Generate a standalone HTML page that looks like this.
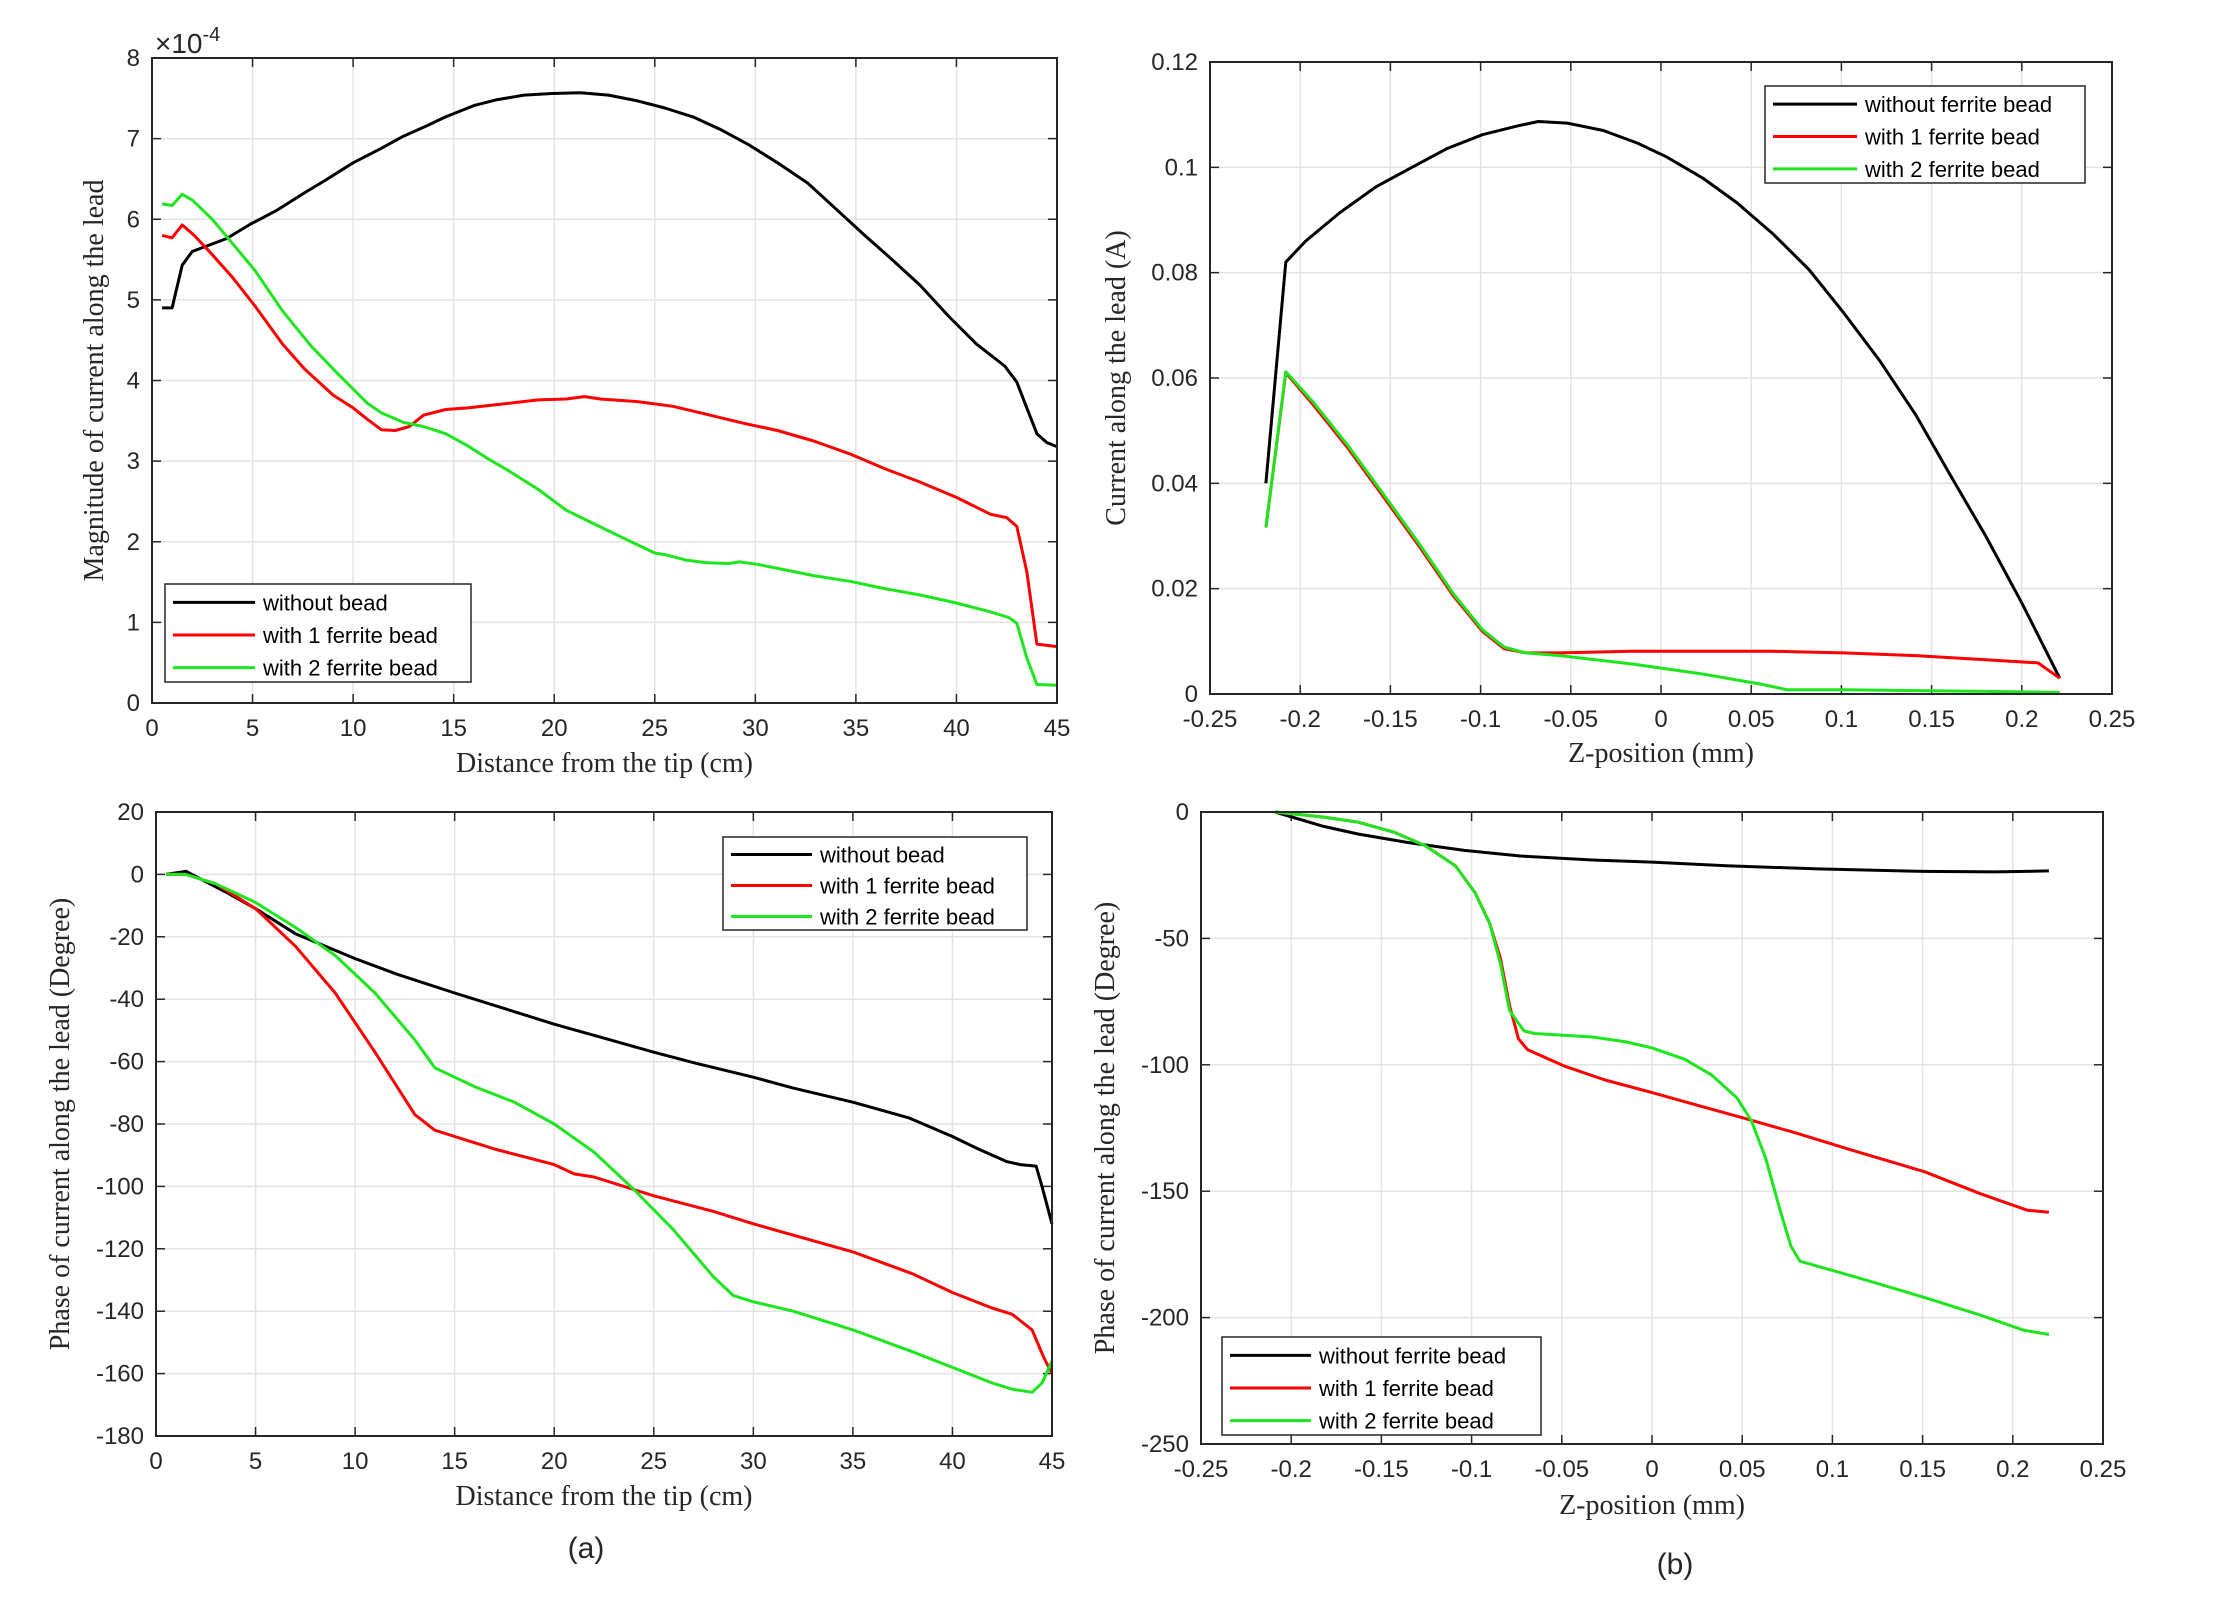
<!DOCTYPE html>
<html><head><meta charset="utf-8">
<style>
html,body{margin:0;padding:0;background:#fff;}
svg{display:block;}
.tk{font-family:"Liberation Sans",Arial,sans-serif;font-size:24px;fill:#262626;}
.ttl{font-family:"Liberation Serif","DejaVu Serif",serif;font-size:28px;fill:#262626;}
.lg{font-family:"Liberation Sans",Arial,sans-serif;font-size:22px;fill:#000;}
</style></head>
<body>
<svg id="fig" width="2221" height="1603" viewBox="0 0 2221 1603" xmlns="http://www.w3.org/2000/svg"></svg>
<script>
// ---------- Panel A1: magnitude vs distance ----------
const a1Ticks = [0,5,10,15,20,25,30,35,40,45];
const a1YTicks = [0,1,2,3,4,5,6,7,8];
const a1BlackX = [0.5,1.0,1.5,2.0,3.7,4.9,6.2,7.6,8.6,10,11.4,12.5,13.5,14.6,16,17.1,18.5,19.9,21.3,22.7,24.1,25.5,26.9,28.3,29.7,31.1,32.6,34,35.4,36.8,38.2,39.6,41,42.4,43.0,43.5,44,44.5,45];
const a1BlackY = [4.9,4.9,5.43,5.6,5.76,5.94,6.11,6.33,6.48,6.7,6.88,7.03,7.14,7.27,7.41,7.48,7.54,7.56,7.57,7.54,7.47,7.38,7.27,7.11,6.92,6.7,6.45,6.13,5.81,5.5,5.18,4.8,4.45,4.18,3.98,3.66,3.34,3.23,3.18];
const a1RedX = [0.5,1,1.5,2.1,3,4,5.1,6.5,7.6,9,10,10.7,11.4,12.1,12.8,13.5,14.6,15.7,17.1,19.2,20.6,21.5,22.3,24.1,25.9,27.6,29.4,31.1,32.9,34.7,36.4,38.2,40,41.7,42.5,43,43.5,44,45];
const a1RedY = [5.8,5.77,5.93,5.8,5.56,5.28,4.93,4.45,4.14,3.82,3.66,3.52,3.39,3.38,3.43,3.57,3.64,3.66,3.7,3.76,3.77,3.8,3.77,3.74,3.68,3.58,3.47,3.38,3.25,3.09,2.91,2.74,2.55,2.34,2.3,2.19,1.63,0.73,0.7];
const a1GreenX = [0.5,1,1.5,2,3,4,5.1,6.5,7.9,9.3,10.7,11.4,12.5,13.5,14.6,15.7,16.7,17.8,19.2,20.6,22,23.4,25,25.5,26.6,27.6,28.7,29.2,30.1,31.1,32.9,34.7,36.4,38.2,40,41.7,42.6,43,43.5,44,45];
const a1GreenY = [6.19,6.17,6.31,6.24,6.0,5.7,5.37,4.86,4.43,4.07,3.72,3.6,3.48,3.43,3.34,3.19,3.03,2.87,2.65,2.39,2.22,2.05,1.86,1.84,1.77,1.74,1.73,1.75,1.72,1.67,1.58,1.51,1.42,1.34,1.24,1.13,1.06,0.99,0.56,0.23,0.22];

// ---------- Panel B1: current vs z ----------
const b1XTicks = [-0.25,-0.2,-0.15,-0.1,-0.05,0,0.05,0.1,0.15,0.2,0.25];
const b1XLabels = ["-0.25","-0.2","-0.15","-0.1","-0.05","0","0.05","0.1","0.15","0.2","0.25"];
const b1YTicks = [0,0.02,0.04,0.06,0.08,0.1,0.12];
const b1YLabels = ["0","0.02","0.04","0.06","0.08","0.1","0.12"];
const b1BlackX = [-0.219,-0.208,-0.197,-0.178,-0.158,-0.138,-0.119,-0.099,-0.079,-0.068,-0.052,-0.032,-0.013,0.003,0.023,0.042,0.062,0.082,0.101,0.121,0.141,0.160,0.18,0.2,0.221];
const b1BlackY = [0.040,0.082,0.086,0.0914,0.0963,0.100,0.1035,0.1062,0.1079,0.1087,0.1084,0.107,0.1046,0.102,0.098,0.0933,0.0874,0.0806,0.0725,0.0634,0.0531,0.0418,0.030,0.0173,0.003];
const b1RedX = [-0.219,-0.208,-0.193,-0.174,-0.154,-0.134,-0.115,-0.099,-0.087,-0.075,-0.056,-0.016,0.023,0.062,0.101,0.141,0.18,0.209,0.221];
const b1RedY = [0.0316,0.061,0.055,0.0469,0.0375,0.028,0.0186,0.0119,0.0086,0.0078,0.0078,0.0081,0.0081,0.0081,0.0078,0.0073,0.0065,0.0059,0.003];
const b1GreenX = [-0.219,-0.208,-0.193,-0.174,-0.154,-0.134,-0.115,-0.099,-0.087,-0.075,-0.056,-0.016,0.023,0.055,0.07,0.101,0.18,0.221];
const b1GreenY = [0.0316,0.0612,0.0555,0.0474,0.038,0.0285,0.019,0.0122,0.0089,0.0078,0.0073,0.0057,0.0038,0.0019,0.0008,0.0008,0.0005,0.0003];

// ---------- Panel A2: phase vs distance ----------
const a2XTicks = [0,5,10,15,20,25,30,35,40,45];
const a2YTicks = [20,0,-20,-40,-60,-80,-100,-120,-140,-160,-180];
const a2BlackX = [0.5,1.5,2.1,3.6,5,7,10,12.1,15,17,20,22.8,25,27.1,30,32,35,37.8,40,41.3,42.7,43.4,44.2,44.5,45];
const a2BlackY = [0,1,-1,-6,-11,-19,-27,-32,-38,-42,-48,-53,-57,-60.5,-65,-68.5,-73,-78,-84,-88,-92,-93,-93.5,-100,-112];
const a2RedX = [0.5,1.5,3,5,7,9,11,13,14,15,17,20,21,22,25,28,30,35,38,40,42,43,44,44.6,45];
const a2RedY = [0,0,-3,-11,-23,-38,-57,-77,-82,-84,-88,-93,-96,-97,-103,-108,-112,-121,-128,-134,-139,-141,-146,-155,-160];
const a2GreenX = [0.5,1.5,3,5,7,9,11,13,14,15,16,18,20,22,24,26,28,29,30,32,35,38,40,42,43,44,44.5,45];
const a2GreenY = [0,0,-3,-9,-17,-26,-38,-53,-62,-65,-68,-73,-80,-89,-101,-114,-129,-135,-137,-140,-146,-153,-158,-163,-165,-166,-163,-156];

// ---------- Panel B2: phase vs z ----------
const b2XTicks = [-0.25,-0.2,-0.15,-0.1,-0.05,0,0.05,0.1,0.15,0.2,0.25];
const b2XLabels = ["-0.25","-0.2","-0.15","-0.1","-0.05","0","0.05","0.1","0.15","0.2","0.25"];
const b2YTicks = [0,-50,-100,-150,-200,-250];
const b2BlackX = [-0.209,-0.182,-0.163,-0.135,-0.104,-0.073,-0.033,0,0.041,0.092,0.151,0.19,0.22];
const b2BlackY = [0,-5.7,-8.7,-12.1,-15.2,-17.4,-19,-19.8,-21.3,-22.5,-23.5,-23.7,-23.3];
const b2RedX = [-0.209,-0.182,-0.163,-0.143,-0.126,-0.109,-0.098,-0.09,-0.084,-0.079,-0.074,-0.069,-0.049,-0.026,0,0.025,0.053,0.08,0.112,0.151,0.182,0.208,0.22];
const b2RedY = [0,-2,-4,-8,-13.2,-21.3,-32,-44,-58,-76.5,-89.7,-94,-100.4,-106,-111,-116,-121.5,-127,-134,-142.3,-151,-157.5,-158.3];
const b2GreenX = [-0.209,-0.182,-0.163,-0.143,-0.126,-0.109,-0.098,-0.09,-0.084,-0.079,-0.071,-0.065,-0.033,-0.014,0,0.018,0.033,0.047,0.055,0.063,0.071,0.077,0.082,0.112,0.151,0.182,0.206,0.22];
const b2GreenY = [0,-2,-4,-8,-13.2,-21.3,-32,-44,-60,-78.5,-86.6,-87.6,-89,-91,-93.3,-97.8,-104,-113,-122,-137,-157.5,-171.7,-177.7,-183.8,-192,-199,-205,-206.7];

const NS = "http://www.w3.org/2000/svg";
const fig = document.getElementById('fig');
function mk(tag, attrs, parent){
  const e = document.createElementNS(NS, tag);
  for (const k in attrs) e.setAttribute(k, attrs[k]);
  (parent||fig).appendChild(e);
  return e;
}
const BLACK = "#000000", RED = "#ff0000", GREEN = "#1ee61e";

function panel(p){
  const g = mk('g', {});
  
  
  const sx = v => p.L + (v - p.xmin) / (p.xmax - p.xmin) * (p.R - p.L);
  const sy = v => p.B - (v - p.ymin) / (p.ymax - p.ymin) * (p.B - p.T);
  p.xt.forEach((v,i) => {
    const x = sx(v);
    const gl = mk('line', {x1:x, x2:x, y1:p.T, y2:p.B, stroke:'#e3e3e3', 'stroke-width':1.5}, g);
    
    
    mk('line', {x1:x, x2:x, y1:p.B, y2:p.B-9, stroke:'#262626', 'stroke-width':1.5}, g);
    mk('line', {x1:x, x2:x, y1:p.T, y2:p.T+9, stroke:'#262626', 'stroke-width':1.5}, g);
    const t = mk('text', {x:x, y:p.B+33, 'text-anchor':'middle', class:'tk'}, g);
    t.textContent = p.xl ? p.xl[i] : String(v);
    
    
  });
  p.yt.forEach((v,i) => {
    const y = sy(v);
    const gl = mk('line', {x1:p.L, x2:p.R, y1:y, y2:y, stroke:'#e3e3e3', 'stroke-width':1.5}, g);
    
    
    mk('line', {x1:p.L, x2:p.L+9, y1:y, y2:y, stroke:'#262626', 'stroke-width':1.5}, g);
    mk('line', {x1:p.R, x2:p.R-9, y1:y, y2:y, stroke:'#262626', 'stroke-width':1.5}, g);
    const t = mk('text', {x:p.L-12, y:y+8, 'text-anchor':'end', class:'tk'}, g);
    t.textContent = p.yl ? p.yl[i] : String(v);
    
    
  });
  p.series.forEach(s => {
    const d = s.x.map((v,i) => (i?'L':'M') + sx(v).toFixed(1) + ',' + sy(s.y[i]).toFixed(1)).join(' ');
    const path = mk('path', {d:d, fill:'none', stroke:s.c, 'stroke-width':3, 'stroke-linejoin':'round'}, g);
    
    
  });
  const box = mk('rect', {x:p.L, y:p.T, width:p.R-p.L, height:p.B-p.T, fill:'none', stroke:'#262626', 'stroke-width':2}, g);
  
  
  const xt = mk('text', {x:(p.L+p.R)/2, y:p.xty, 'text-anchor':'middle', class:'ttl'}, g);
  xt.textContent = p.xtitle;
  
  
  const yt = mk('text', {x:0, y:0, 'text-anchor':'middle', class:'ttl', transform:`translate(${p.ytx},${(p.T+p.B)/2}) rotate(-90)`}, g);
  yt.textContent = p.ytitle;
  
  
  const lg = p.leg;
  const lgr = mk('g', {}, g);
  
  
  mk('rect', {x:lg.x, y:lg.y, width:lg.w, height:lg.h, fill:'#fff', stroke:'#262626', 'stroke-width':1.5}, lgr);
  p.series.forEach((s,i) => {
    const ry = lg.y + lg.h*(i+0.5)/3 + 2;
    const e = mk('g', {}, lgr);
    
    
    mk('line', {x1:lg.x+8, x2:lg.x+8+lg.ll, y1:ry, y2:ry, stroke:s.c, 'stroke-width':3}, e);
    const t = mk('text', {x:lg.x+lg.ll+16, y:ry+8, class:'lg'}, e);
    t.textContent = s.label;
  });
}

panel({name:'magnitude-chart', L:152, R:1057, T:58, B:703, xmin:0, xmax:45, ymin:0, ymax:8,
  xt:a1Ticks, yt:a1YTicks, xtitle:'Distance from the tip (cm)', ytitle:'Magnitude of current along the lead', xty:772, ytx:103,
  leg:{x:165, y:584, w:306, h:98, ll:82},
  series:[{x:a1BlackX,y:a1BlackY,c:BLACK,n:'line-without-bead',label:'without bead'},
          {x:a1RedX,y:a1RedY,c:RED,n:'line-1-ferrite-bead',label:'with 1 ferrite bead'},
          {x:a1GreenX,y:a1GreenY,c:GREEN,n:'line-2-ferrite-bead',label:'with 2 ferrite bead'}]});
const ex = mk('text', {x:155, y:53, class:'tk'});
ex.innerHTML = '×10<tspan dy="-12" style="font-size:20px">-4</tspan>';
ex.setAttribute('style','font-size:28px');



panel({name:'current-chart', L:1210, R:2112, T:62, B:694, xmin:-0.25, xmax:0.25, ymin:0, ymax:0.12,
  xt:b1XTicks, xl:b1XLabels, yt:b1YTicks, yl:b1YLabels, xtitle:'Z-position (mm)', ytitle:'Current along the lead (A)', xty:762, ytx:1125,
  leg:{x:1765, y:86, w:320, h:97, ll:84},
  series:[{x:b1BlackX,y:b1BlackY,c:BLACK,n:'line-without-ferrite-bead',label:'without ferrite bead'},
          {x:b1RedX,y:b1RedY,c:RED,n:'line-1-ferrite-bead',label:'with 1 ferrite bead'},
          {x:b1GreenX,y:b1GreenY,c:GREEN,n:'line-2-ferrite-bead',label:'with 2 ferrite bead'}]});

panel({name:'phase-distance-chart', L:156, R:1052, T:812, B:1436, xmin:0, xmax:45, ymin:-180, ymax:20,
  xt:a2XTicks, yt:a2YTicks, xtitle:'Distance from the tip (cm)', ytitle:'Phase of current along the lead (Degree)', xty:1505, ytx:69,
  leg:{x:723, y:837, w:304, h:93, ll:81},
  series:[{x:a2BlackX,y:a2BlackY,c:BLACK,n:'line-without-bead',label:'without bead'},
          {x:a2RedX,y:a2RedY,c:RED,n:'line-1-ferrite-bead',label:'with 1 ferrite bead'},
          {x:a2GreenX,y:a2GreenY,c:GREEN,n:'line-2-ferrite-bead',label:'with 2 ferrite bead'}]});

panel({name:'phase-z-chart', L:1201, R:2103, T:812, B:1444, xmin:-0.25, xmax:0.25, ymin:-250, ymax:0,
  xt:b2XTicks, xl:b2XLabels, yt:b2YTicks, xtitle:'Z-position (mm)', ytitle:'Phase of current along the lead (Degree)', xty:1514, ytx:1114,
  leg:{x:1222, y:1337, w:319, h:98, ll:81},
  series:[{x:b2BlackX,y:b2BlackY,c:BLACK,n:'line-without-ferrite-bead',label:'without ferrite bead'},
          {x:b2RedX,y:b2RedY,c:RED,n:'line-1-ferrite-bead',label:'with 1 ferrite bead'},
          {x:b2GreenX,y:b2GreenY,c:GREEN,n:'line-2-ferrite-bead',label:'with 2 ferrite bead'}]});

const ca = mk('text', {x:586, y:1558, 'text-anchor':'middle', class:'tk'});
ca.textContent = '(a)';
ca.setAttribute('style','font-size:30px');


const cb = mk('text', {x:1675, y:1574, 'text-anchor':'middle', class:'tk'});
cb.textContent = '(b)';
cb.setAttribute('style','font-size:30px');


</script>
</body></html>
